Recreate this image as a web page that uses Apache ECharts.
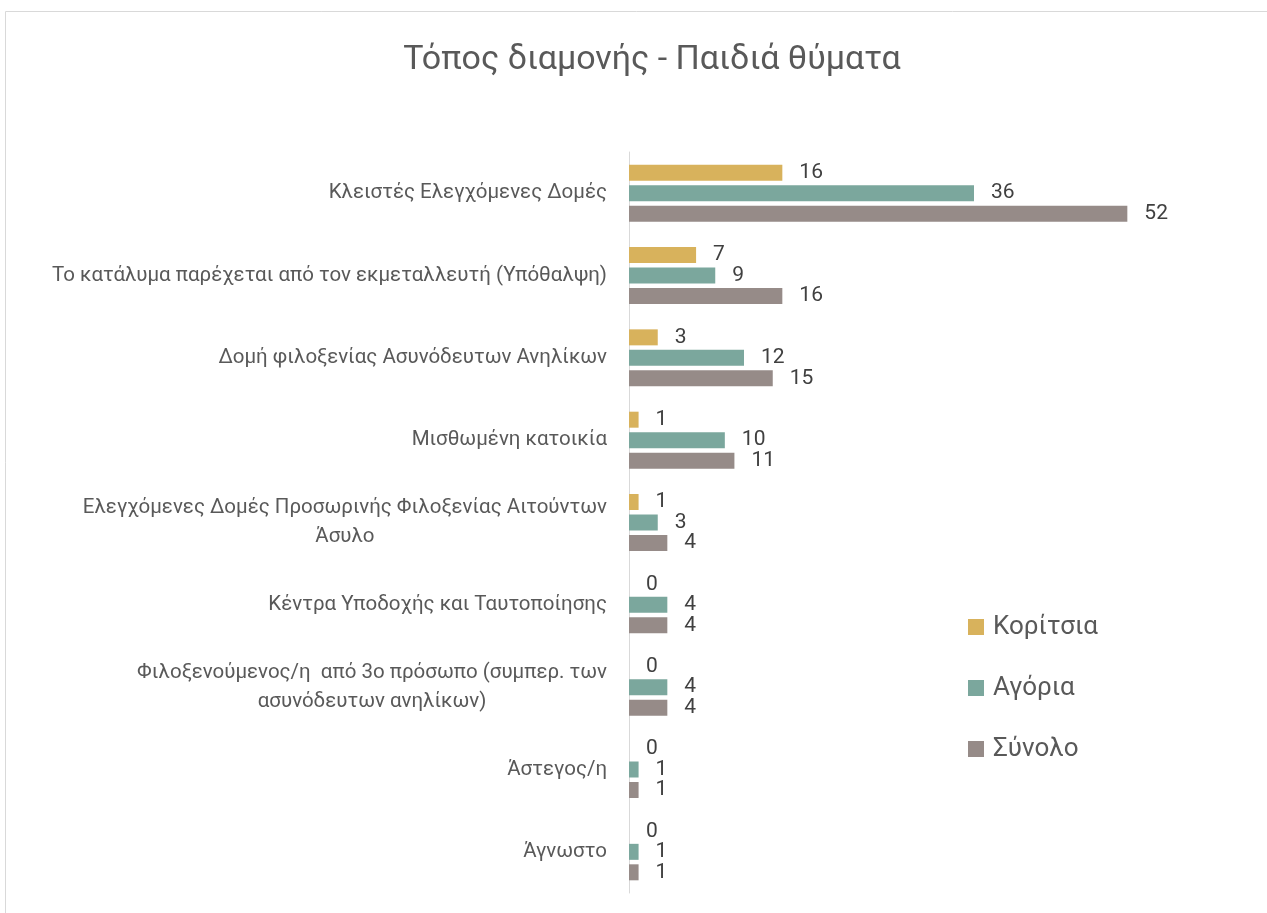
<!DOCTYPE html>
<html><head><meta charset="utf-8">
<script src="https://cdn.jsdelivr.net/npm/echarts@6/dist/echarts.min.js"></script>
<style>html,body{margin:0;padding:0;background:#fff;}#c{width:1267px;height:913px;}</style>
</head><body><div id="c"></div>
<script>
const categories = [
  "Κλειστές Ελεγχόμενες Δομές",
  "Το κατάλυμα παρέχεται από τον εκμεταλλευτή (Υπόθαλψη)",
  "Δομή φιλοξενίας Ασυνόδευτων Ανηλίκων",
  "Μισθωμένη κατοικία",
  "Ελεγχόμενες Δομές Προσωρινής Φιλοξενίας Αιτούντων\nΆσυλο",
  "Κέντρα Υποδοχής και Ταυτοποίησης",
  "Φιλοξενούμενος/η  από 3ο πρόσωπο (συμπερ. των\nασυνόδευτων ανηλίκων)",
  "Άστεγος/η",
  "Άγνωστο"
];
const girls = [16, 7, 3, 1, 1, 0, 0, 0, 0];
const boys  = [36, 9, 12, 10, 3, 4, 4, 1, 1];
const total = [52, 16, 15, 11, 4, 4, 4, 1, 1];
const seriesNames = ["Κορίτσια", "Αγόρια", "Σύνολο"];
const colors = ["#D8B25C", "#7BA79D", "#968B88"];

const FONT = "Roboto";
const chart = echarts.init(document.getElementById('c'));
const label = {show: true, position: 'right', distance: 17, color: '#404040', fontSize: 21, fontFamily: FONT};
function mk(i, data) {
  return {name: seriesNames[i], type: 'bar', data: data, barWidth: 16, barGap: '28%',
    itemStyle: {color: colors[i]}, label: label};
}
chart.setOption({
  animation: false,
  title: {text: 'Τόπος διαμονής - Παιδιά θύματα', left: 647, textAlign: 'center', top: 38,
    textStyle: {fontFamily: FONT, fontSize: 34, fontWeight: 'normal', color: '#595959'}},
  graphic: [{type: 'rect', shape: {x: 5.5, y: 11.5, width: 1400, height: 1000},
    style: {fill: 'none', stroke: '#d9d9d9', lineWidth: 1}, silent: true, z: -1}],
  legend: {orient: 'vertical', left: 968, top: 614, padding: 0, itemWidth: 16, itemHeight: 16, itemGap: 35,
    icon: 'rect', textStyle: {fontFamily: FONT, fontSize: 26, color: '#595959', lineHeight: 26, padding: [0,0,0,4]},
    data: seriesNames},
  grid: {left: 629, top: 152, height: 741, right: 63},
  xAxis: {type: 'value', min: 0, max: 60, show: false, splitLine: {show: false}},
  yAxis: {type: 'category', inverse: true, data: categories,
    axisLine: {lineStyle: {color: '#d9d9d9'}}, axisTick: {show: false},
    axisLabel: {margin: 22, color: '#595959', fontSize: 20.5, fontFamily: FONT,
      formatter: function (v) { return v.split('\n').map(s => '{c|' + s + '}').join('\n'); },
      rich: {c: {align: 'center', fontSize: 20.5, fontFamily: FONT, color: '#595959', lineHeight: 29}}}},
  series: [mk(0, girls), mk(1, boys), mk(2, total)]
});
</script></body></html>
